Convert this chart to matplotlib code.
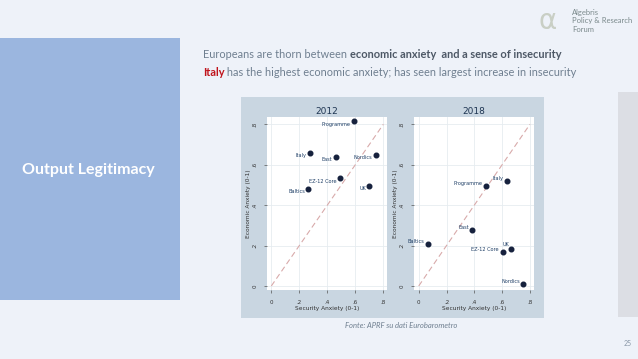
import matplotlib
matplotlib.use("Agg")
import matplotlib.pyplot as plt

# data
groups_2012 = ["Programme", "Italy", "East", "Nordics", "EZ-12 Core", "UK", "Baltics"]
sec_2012 = [0.590, 0.276, 0.460, 0.748, 0.490, 0.700, 0.264]
eco_2012 = [0.815, 0.660, 0.638, 0.650, 0.533, 0.496, 0.480]

groups_2018 = ["Italy", "Programme", "East", "Baltics", "UK", "EZ-12 Core", "Nordics"]
sec_2018 = [0.637, 0.481, 0.386, 0.067, 0.663, 0.608, 0.752]
eco_2018 = [0.518, 0.493, 0.277, 0.206, 0.183, 0.170, 0.010]

diag = [0, 0.8]
xticks = [0, 0.2, 0.4, 0.6, 0.8]
xticklabels = ["0", ".2", ".4", ".6", ".8"]

W, H = 638, 359
fig = plt.figure(figsize=(W / 100, H / 100), dpi=100)
fig.patch.set_facecolor("#eef2f9")


def px_axes(x0, y0, x1, y1, **kw):
    return fig.add_axes([x0 / W, 1 - y1 / H, (x1 - x0) / W, (y1 - y0) / H], **kw)


def fx(x):
    return x / W


def fy(y):
    return 1 - y / H


# left blue block
blue = px_axes(0, 38, 180, 300)
blue.set_facecolor("#9bb6df")
blue.set_xticks([]); blue.set_yticks([])
for s in blue.spines.values():
    s.set_visible(False)
fig.text(fx(88), fy(170), "Output Legitimacy", color="white", fontsize=11.5,
         fontweight="bold", family="Lato", ha="center", va="center")

# grey strip right
strip = px_axes(618, 92, 638, 317)
strip.set_facecolor("#dcdee4")
strip.set_xticks([]); strip.set_yticks([])
for s in strip.spines.values():
    s.set_visible(False)

# stata graph region
region = px_axes(241, 97, 544, 318)
region.set_facecolor("#c9d6e1")
region.set_xticks([]); region.set_yticks([])
for s in region.spines.values():
    s.set_visible(False)


def panel(rect, xlim, title, groups, xs, ys, offsets):
    ax = px_axes(*rect)
    ax.set_facecolor("white")
    ax.set_xlim(*xlim)
    ax.set_ylim(-0.02, 0.836)
    ax.set_xticks(xticks)
    ax.set_xticklabels(xticklabels)
    ax.set_yticks(xticks)
    ax.set_yticklabels(xticklabels, rotation=90, va="center")
    ax.grid(True, color="#e6ecf0", lw=0.6)
    ax.set_axisbelow(True)
    for s in ax.spines.values():
        s.set_visible(False)
    ax.tick_params(length=2, width=0.5, color="#555555", labelsize=4,
                   labelcolor="#333333", pad=5)
    ax.plot(diag, diag, ls=(0, (5, 3)), color="#d8aaaa", lw=0.8)
    ax.scatter(xs, ys, s=11, color="#16213d", zorder=3)
    for g, x, y, (dx, dy) in zip(groups, xs, ys, offsets):
        ax.annotate(g, (x, y), xytext=(dx, dy), textcoords="offset points",
                    ha="right", va="center", fontsize=3.6, color="#1f3f66")
    ax.set_title(title, fontsize=6.5, color="#1e3552", pad=2)
    ax.set_xlabel("Security Anxiety (0-1)", fontsize=4.2, color="#333333", labelpad=1)
    ax.set_ylabel("Economic Anxiety (0-1)", fontsize=4.2, color="#333333", labelpad=1)
    return ax


off_2012 = [(-2.5, -2)] * 7
off_2018 = [(-2.5, 2), (-2.5, 2), (-2.5, 2), (-2.5, 2), (-1, 3), (-3, 1.5), (-2.5, 2)]

panel((267, 117, 387, 290), (-0.031, 0.826), "2012", groups_2012, sec_2012, eco_2012, off_2012)
panel((414, 117, 534, 290), (-0.034, 0.829), "2018", groups_2018, sec_2018, eco_2018, off_2018)

# header text with mixed styles
renderer = fig.canvas.get_renderer()


def rich_line(x, y, pieces, size=7.95):
    cur = fx(x)
    for txt, color, weight in pieces:
        t = fig.text(cur, fy(y), txt, color=color, fontweight=weight, fontsize=size,
                     family="Lato", ha="left", va="center")
        bb = t.get_window_extent(renderer)
        cur += bb.width / W


grey_txt = "#6f7f90"
dark_txt = "#4d5866"
rich_line(203, 55, [("Europeans are thorn between ", grey_txt, "normal"),
                    ("economic anxiety  and a sense of insecurity", dark_txt, "bold")])
rich_line(203, 72, [("Italy", "#c0141c", "bold"),
                    (" has the highest economic anxiety; has seen largest increase in insecurity",
                     grey_txt, "normal")])

fig.text(fx(345), fy(325), "Fonte: APRF su dati Eurobarometro", fontsize=5.5, style="italic",
         color="#6f7f90", family="Lato", va="center")
fig.text(fx(628), fy(343), "25", fontsize=5, color="#8a98a8", family="Lato",
         ha="center", va="center")

# logo text
fig.text(fx(548), fy(21), "\u03b1", fontsize=20, color="#c9cfc5", family="DejaVu Sans",
         ha="center", va="center")
for i, line in enumerate(["Algebris", "Policy & Research", "Forum"]):
    fig.text(fx(572), fy(12 + 9 * i), line, fontsize=5.5, color="#7b8a8c",
             family="Lato", va="center")

fig.savefig("out.png", dpi=100, facecolor=fig.get_facecolor())
